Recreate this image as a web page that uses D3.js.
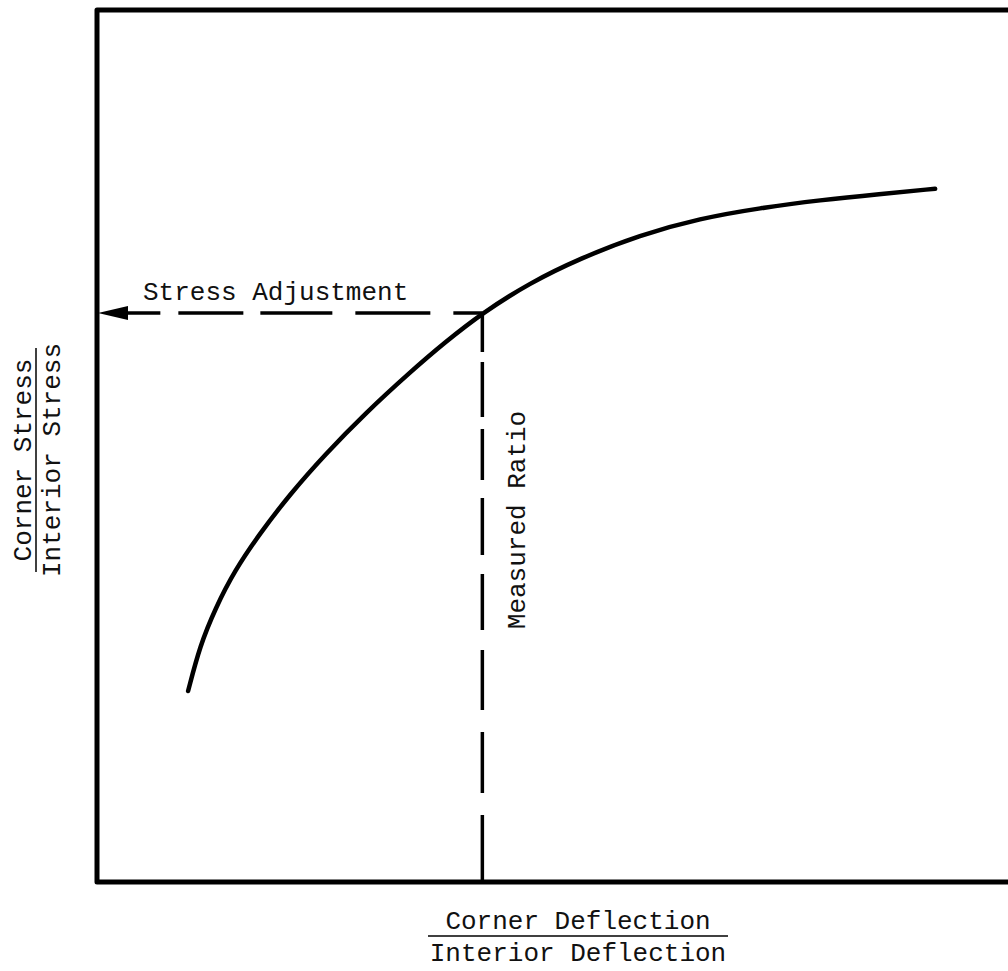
<!DOCTYPE html>
<html>
<head>
<meta charset="utf-8">
<script src="https://cdn.jsdelivr.net/npm/d3@7"></script>
<style>
  html, body { margin: 0; padding: 0; background: #fff; }
  svg { display: block; }
  text { font-family: "Liberation Mono", "DejaVu Sans Mono", monospace; fill: #111; }
</style>
</head>
<body>
<svg id="chart" width="1008" height="971"></svg>
<script>
// Curve: corner stress ratio vs corner deflection ratio (arbitrary units)
const curveX = [1.00, 1.13, 1.30, 1.51, 1.79, 2.12, 2.50, 2.94, 3.44, 3.82, 4.23, 4.75, 5.30, 5.96, 6.62, 7.28, 7.94, 8.59, 9.20];
const curveY = [2.19, 2.71, 3.14, 3.57, 4.00, 4.45, 4.90, 5.37, 5.85, 6.19, 6.525, 6.87, 7.15, 7.42, 7.61, 7.73, 7.82, 7.89, 7.95];
const measured = [4.23, 6.525];
const labels = {
  adjust: "Stress Adjustment",
  measured: "Measured Ratio",
  yTop: "Corner Stress",
  yBottom: "Interior Stress",
  xTop: "Corner Deflection",
  xBottom: "Interior Deflection"
};

const svg = d3.select("#chart");
const mLeft = 97, mTop = 10, mRight = 1008, mBottom = 882;
const x = d3.scaleLinear().domain([0, 10]).range([mLeft, mRight]);
const y = d3.scaleLinear().domain([0, 10]).range([mBottom, mTop]);

// frame (right side runs off the page)
svg.append("path")
  .attr("d", `M${x(10.2)},${y(10)} H${x(0)} V${y(0)} H${x(10.2)}`)
  .attr("fill", "none").attr("stroke", "#000").attr("stroke-width", 5)
  .attr("stroke-linejoin", "round");

// curve
const pts = curveX.map((d, i) => [d, curveY[i]]);
svg.append("path")
  .datum(pts)
  .attr("d", d3.line().x(d => x(d[0])).y(d => y(d[1])).curve(d3.curveBasis))
  .attr("fill", "none").attr("stroke", "#000").attr("stroke-width", 4.5)
  .attr("stroke-linecap", "round");

const mx = x(measured[0]), my = y(measured[1]);

// vertical dashed line (drawn from the curve down)
svg.append("line")
  .attr("x1", mx).attr("y1", my).attr("x2", mx).attr("y2", y(0))
  .attr("stroke", "#000").attr("stroke-width", 3.5)
  .attr("stroke-dasharray", "39 10 55 12 51 18 57 19 56 20 60 22 61 22 67");

// horizontal dashed line with arrow
svg.append("line")
  .attr("x1", mx).attr("y1", my).attr("x2", x(0) + 28).attr("y2", my)
  .attr("stroke", "#000").attr("stroke-width", 3.5)
  .attr("stroke-dasharray", "29 23 75 23 72 17 65 18 80");
svg.append("path")
  .attr("d", `M${x(0) + 1},${my} L${x(0) + 31},${my - 7} L${x(0) + 31},${my + 7} Z`)
  .attr("fill", "#000");

// annotations
svg.append("text")
  .attr("x", x(0) + 46).attr("y", my - 13)
  .attr("font-size", 26)
  .text(labels.adjust);

svg.append("text")
  .attr("transform", `translate(${mx + 43},520) rotate(-90)`)
  .attr("text-anchor", "middle").attr("font-size", 26)
  .text(labels.measured);

// y-axis label (fraction)
const ylx = 36, yly = 460;
svg.append("text")
  .attr("transform", `translate(${ylx - 5},${yly}) rotate(-90)`)
  .attr("text-anchor", "middle").attr("font-size", 26)
  .text(labels.yTop);
svg.append("line")
  .attr("x1", ylx).attr("x2", ylx).attr("y1", yly - 112).attr("y2", yly + 112)
  .attr("stroke", "#000").attr("stroke-width", 1.5);
svg.append("text")
  .attr("transform", `translate(${ylx + 24},${yly}) rotate(-90)`)
  .attr("text-anchor", "middle").attr("font-size", 26)
  .text(labels.yBottom);

// x-axis label (fraction)
const xlx = 578, xly = 936;
svg.append("text")
  .attr("x", xlx).attr("y", xly - 7)
  .attr("text-anchor", "middle").attr("font-size", 26)
  .text(labels.xTop);
svg.append("line")
  .attr("x1", xlx - 150).attr("x2", xlx + 150).attr("y1", xly).attr("y2", xly)
  .attr("stroke", "#000").attr("stroke-width", 1.5);
svg.append("text")
  .attr("x", xlx).attr("y", xly + 25)
  .attr("text-anchor", "middle").attr("font-size", 26)
  .text(labels.xBottom);
</script>
</body>
</html>
